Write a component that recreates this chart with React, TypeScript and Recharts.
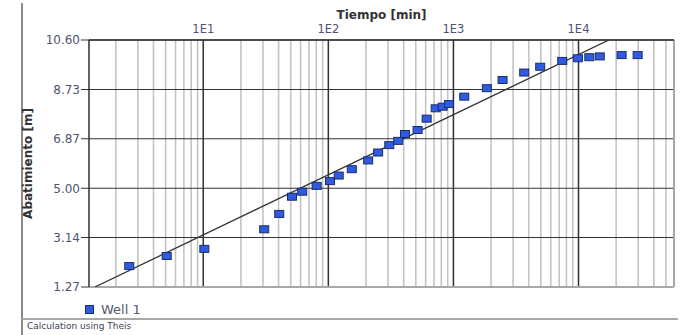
import {
  ComposedChart,
  Scatter,
  Line,
  XAxis,
  YAxis,
  CartesianGrid,
  ReferenceLine,
  Legend,
} from 'recharts';

// ── data ─────────────────────────────────────────────────────────────────────

const tiempo = [
  2.56, 5.1, 10.2, 30.7, 40.5, 51.2, 61.8, 80.6, 103, 121, 154, 208, 250, 307,
  362, 410, 517, 611, 721, 820, 921, 1220, 1850, 2470, 3680, 4940, 7410, 9890,
  12200, 14800, 22100, 29700,
];
const abatimiento = [
  2.06, 2.44, 2.71, 3.45, 4.03, 4.68, 4.87, 5.09, 5.27, 5.48, 5.72, 6.05, 6.35,
  6.63, 6.79, 7.05, 7.2, 7.63, 8.02, 8.08, 8.18, 8.46, 8.78, 9.09, 9.37, 9.59,
  9.81, 9.91, 9.95, 9.98, 10.03, 10.03,
];

// Theis fit (straight line in semi-log space)
const theisT = [1.36, 17500];
const theisS = [1.27, 10.6];

const xDomain = [1.22, 58000];
const decades = [10, 100, 1000, 10000];
const minorTicks = [
  2, 3, 4, 5, 6, 7, 8, 9,
  20, 30, 40, 50, 60, 70, 80, 90,
  200, 300, 400, 500, 600, 700, 800, 900,
  2000, 3000, 4000, 5000, 6000, 7000, 8000, 9000,
  20000, 30000, 40000, 50000,
];
const yTicks = [1.27, 3.14, 5.0, 6.87, 8.73, 10.6];

const wellData = tiempo.map((t, i) => ({ t, s: abatimiento[i] }));
const theisData = theisT.map((t, i) => ({ t, s: theisS[i] }));

const FONT = '"DejaVu Sans", Verdana, sans-serif';
const TICK_COLOR = '#4f5370';
const BLUE = '#2f5be0';
const NAVY = '#1b2c6b';

function SquareMarker(props: any) {
  const { cx, cy } = props;
  if (cx == null || cy == null) return null;
  return <rect x={cx - 4.5} y={cy - 3.5} width={9} height={7} fill={BLUE} stroke={NAVY} strokeWidth={1} />;
}

function WellLegend() {
  return (
    <div style={{ height: 33, paddingTop: 12, paddingLeft: 85, boxSizing: 'border-box', fontFamily: FONT }}>
      <span style={{ display: 'inline-flex', alignItems: 'center', fontSize: 13, color: '#555a6e', lineHeight: '16px' }}>
        <span style={{ width: 7, height: 7, background: BLUE, border: `1px solid ${NAVY}`, marginRight: 7 }} />
        Well 1
      </span>
    </div>
  );
}

const allXTicks = [...minorTicks, ...decades].sort((a, b) => a - b);

export default function App() {
  return (
    <div style={{ position: 'absolute', left: 0, top: 0, width: 681, height: 335, background: '#fff', fontFamily: FONT }}>
      <div style={{ position: 'absolute', left: 21, top: 3, width: 2, height: 332, background: '#8a8a8a' }} />
      <div style={{ position: 'absolute', left: 22, top: 318, width: 656, height: 2, background: '#a8a8a8' }} />
      <div style={{ position: 'absolute', left: 27, top: 321, fontSize: 9, color: '#3d4257' }}>Calculation using Theis</div>

      <ComposedChart
        width={681}
        height={320}
        margin={{ top: 0, right: 7, bottom: 0, left: 0 }}
        style={{ position: 'absolute', left: 0, top: 0 }}
      >
        {/* minor vertical grid */}
        <CartesianGrid horizontal={false} stroke="#c4c4c4" strokeWidth={1.6} />
        {/* horizontal grid */}
        <CartesianGrid vertical={false} stroke="#333" strokeWidth={1.2} />
        <XAxis
          xAxisId={0}
          orientation="top"
          type="number"
          dataKey="t"
          scale="log"
          domain={xDomain}
          allowDataOverflow
          ticks={allXTicks}
          interval={0}
          height={40}
          tickSize={0}
          tickMargin={7}
          tickLine={false}
          axisLine={{ stroke: '#333', strokeWidth: 1.4 }}
          tick={{ fontSize: 11.5, fill: TICK_COLOR, fontFamily: FONT }}
          tickFormatter={(v: number) => (decades.includes(v) ? `1E${Math.round(Math.log10(v))}` : '')}
          label={{
            value: 'Tiempo [min]',
            position: 'insideTop',
            offset: 10,
            style: { fontSize: 12, fontWeight: 'bold', fill: '#333', fontFamily: FONT },
          }}
        />
        <YAxis
          type="number"
          dataKey="s"
          domain={[1.27, 10.6]}
          allowDataOverflow
          ticks={yTicks}
          interval={0}
          width={89}
          tickSize={8}
          tickMargin={1}
          tickLine={{ stroke: '#333' }}
          axisLine={{ stroke: '#333', strokeWidth: 1.4 }}
          tick={{ fontSize: 12, fill: TICK_COLOR, fontFamily: FONT }}
          tickFormatter={(v: number) => v.toFixed(2)}
          label={{
            value: 'Abatimiento [m]',
            angle: -90,
            position: 'insideLeft',
            offset: 28,
            style: { textAnchor: 'middle', fontSize: 12, fontWeight: 'bold', fill: '#333', fontFamily: FONT },
          }}
        />
        {decades.map((d) => (
          <ReferenceLine key={d} x={d} stroke="#333" strokeWidth={1.4} />
        ))}
        <ReferenceLine y={1.27} stroke="#a8a8a8" strokeWidth={2} />
        <ReferenceLine x={xDomain[1]} stroke="#a8a8a8" strokeWidth={2} />
        <Line
          data={theisData}
          dataKey="s"
          stroke="#333"
          strokeWidth={1.3}
          dot={false}
          legendType="none"
          isAnimationActive={false}
        />
        <Scatter
          name="Well 1"
          data={wellData}
          dataKey="s"
          shape={SquareMarker}
          isAnimationActive={false}
        />
        <Legend verticalAlign="bottom" align="left" content={WellLegend} />
      </ComposedChart>
    </div>
  );
}
